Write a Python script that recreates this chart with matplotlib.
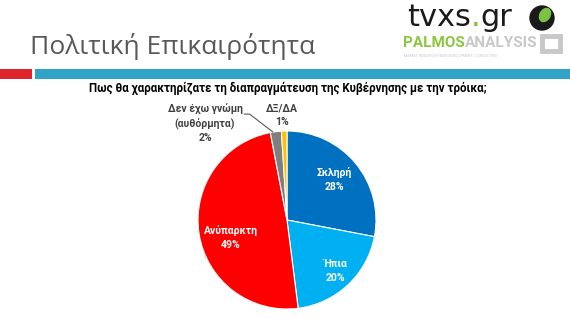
import matplotlib.pyplot as plt
from matplotlib.patches import Rectangle, Circle, Ellipse
import numpy as np

plt.rcParams['font.family'] = ['Roboto', 'DejaVu Sans']

# δεδομένα
categories = ['Σκληρή', 'Ήπια', 'Ανύπαρκτη', 'Δεν έχω γνώμη\n(αυθόρμητα)', 'ΔΞ/ΔΑ']
values = [28, 20, 49, 2, 1]
colors = ['#0070C0', '#00B0F0', '#FF0000', '#7F7F7F', '#FFC000']

title = 'Πολιτική Επικαιρότητα'
question = 'Πως θα χαρακτηρίζατε τη διαπραγμάτευση της Κυβέρνησης με την τρόικα;'

W, H = 570, 318
fig = plt.figure(figsize=(W / 100, H / 100), dpi=100)

# header
hdr = fig.add_axes([0, 0, 1, 1])
hdr.set_xlim(0, W)
hdr.set_ylim(H, 0)
hdr.axis('off')
hdr.text(30, 47, title, fontsize=19, color='#595959', va='center', ha='left',
         family=['Open Sans', 'DejaVu Sans'])
hdr.add_patch(Rectangle((0, 69), 32, 10, color='#E0242B', lw=0))
hdr.add_patch(Rectangle((35, 69), W - 35, 10, color='#31A3C6', lw=0))
hdr.text(288, 88, question, fontsize=8.3, fontweight='bold', ha='center', va='center',
         color='black')

# logo (περίπου)
logo_font = ['DejaVu Sans']
t1 = hdr.text(407, 26, 'tvxs', fontsize=22, color='#1a1a1a', va='baseline', ha='left',
              family=logo_font)
t2 = hdr.annotate('.', xy=(1, 0), xycoords=t1, fontsize=22, color='#7CC242',
                  va='bottom', ha='left', family=logo_font)
hdr.annotate('gr', xy=(1, 0), xycoords=t2, fontsize=22, color='#1a1a1a',
             va='bottom', ha='left', family=logo_font)
hdr.add_patch(Circle((542, 18), 12, color='#1a1a1a'))
hdr.add_patch(Ellipse((545, 15), 10, 14, angle=30, color='#7CC242'))
p1 = hdr.text(403, 47, 'PALMOS', fontsize=11, fontweight='bold', color='#8DC63F',
              va='baseline', ha='left')
hdr.annotate('ANALYSIS', xy=(1, 0), xycoords=p1, fontsize=11, fontweight='bold',
             color='#C8C8C8', va='bottom', ha='left')
hdr.text(404, 56, 'MARKET RESEARCH | WEB DEVELOPMENT | CONSULTING', fontsize=2.6,
         color='#C8C8C8', va='center', ha='left')
hdr.add_patch(Rectangle((542, 36), 18, 15, fill=False, ec='#C8C8C8', lw=3.5))

# pie
cx, cy, r = 287, 220, 89
ax = fig.add_axes([(cx - r) / W, (H - cy - r) / H, 2 * r / W, 2 * r / H])
wedges, _ = ax.pie(values, colors=colors, startangle=90, counterclock=False,
                   radius=1, wedgeprops=dict(edgecolor='white', linewidth=0.8))
ax.set_xlim(-1, 1)
ax.set_ylim(-1, 1)
ax.set_aspect('equal')

inside = [(0, 0.70, 40), (1, 0.79, -47), (2, 0.66, 197)]
for i, dist, ang in inside:
    a = np.deg2rad(ang)
    ax.text(dist * np.cos(a), dist * np.sin(a), f'{categories[i]}\n{values[i]}%',
            ha='center', va='center', color='white', fontsize=7.5,
            fontweight='bold', linespacing=1.5)

# outside labels
ax.text(-0.92, 1.08, f'{categories[3]}\n{values[3]}%', ha='center', va='center',
        fontsize=7.5, fontweight='bold', color='#404040', linespacing=1.4,
        clip_on=False)
ax.plot([-0.48, -0.42, -0.16], [1.19, 1.19, 0.99], color='#595959', lw=0.8,
        clip_on=False)
ax.text(-0.06, 1.18, f'{categories[4]}\n{values[4]}%', ha='center', va='center',
        fontsize=7.5, fontweight='bold', color='#404040', linespacing=1.4,
        clip_on=False)

fig.savefig('out.png', dpi=100)
